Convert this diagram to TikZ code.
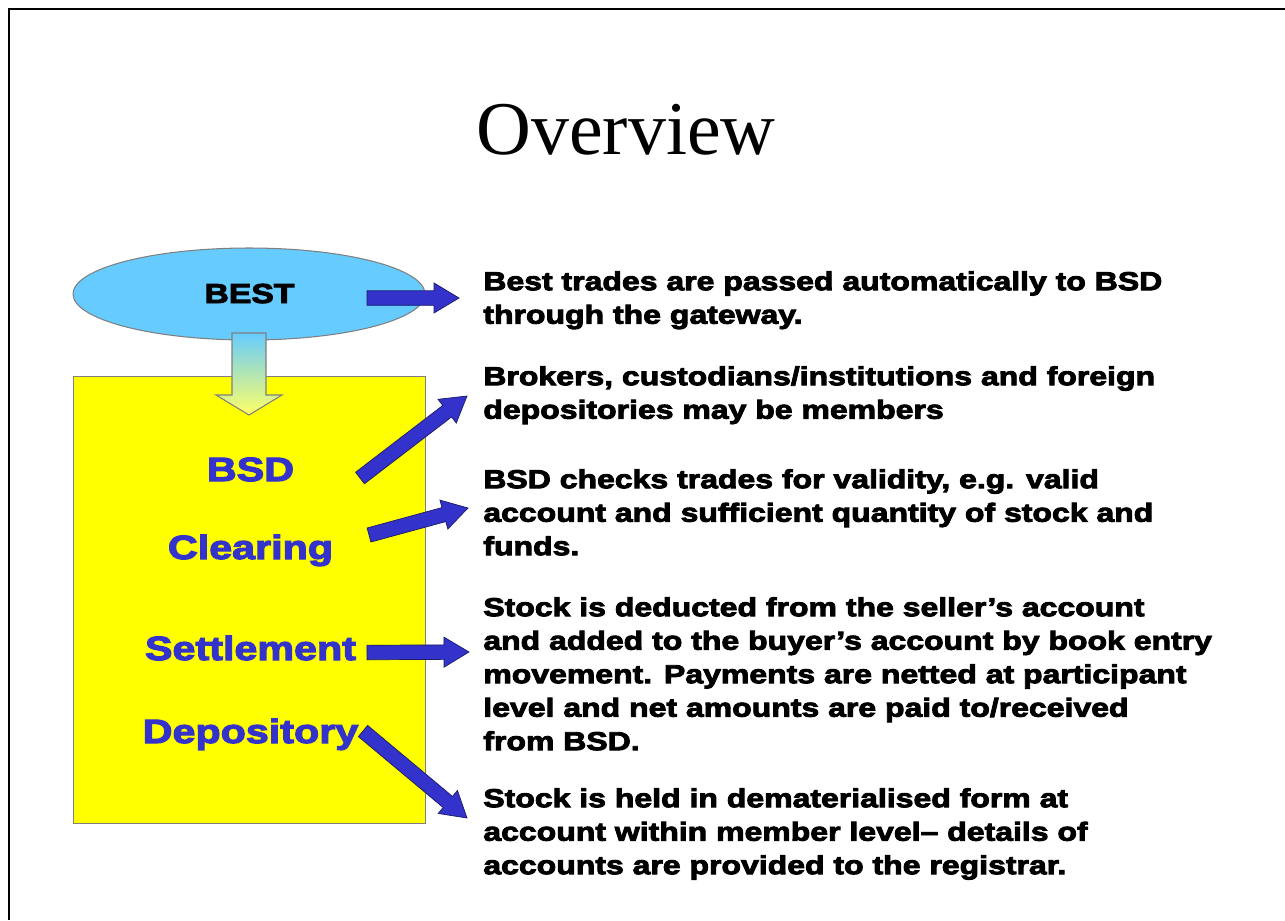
\documentclass[tikz,border=0pt]{standalone}
\usepackage{fontspec}
\setmainfont{Liberation Serif}
\newfontfamily\blackfont{Liberation Sans}[FakeStretch=1.23,FakeBold=3.5]
\usetikzlibrary{shapes.geometric,calc}

\definecolor{bestblue}{HTML}{66CCFF}
\definecolor{bsdyellow}{HTML}{FFFF00}
\definecolor{labelblue}{HTML}{3333CC}
\definecolor{arrowedge}{HTML}{1A1A66}
\definecolor{paleyellow}{HTML}{FFFF66}
\definecolor{boxedge}{HTML}{7F7F7F}

% fat arrow from #1-from to #1-to
\newcommand{\blockarrow}[1]{%
  \coordinate (#1-neck) at ($(#1-to)!0.5cm!(#1-from)$);
  \filldraw[blockarrow]
    ($(#1-from)!0.145cm!90:(#1-to)$) -- ($(#1-neck)!0.145cm!90:(#1-to)$)
    -- ($(#1-neck)!0.3cm!90:(#1-to)$) -- (#1-to)
    -- ($(#1-neck)!0.3cm!-90:(#1-to)$) -- ($(#1-neck)!0.145cm!-90:(#1-to)$)
    -- ($(#1-from)!0.145cm!-90:(#1-to)$) -- cycle;}

\begin{document}
\begin{tikzpicture}
[x=0.02cm, y=-0.02cm,
% STYLES
% title of the slide
title/.style={inner sep=0pt, font=\fontsize{43.2}{50}\selectfont},
% the BEST ellipse and the BSD box
system/.style={draw=boxedge, line width=0.6pt, inner sep=0pt},
% blue names written inside the yellow box
stage/.style={anchor=base, inner sep=0pt, text=labelblue, font=\blackfont\bfseries\fontsize{19.1}{23}\selectfont},
% the explanations on the right
desc/.style={anchor=north west, inner sep=0pt, align=left, font=\blackfont\bfseries\fontsize{14.8}{19.06}\selectfont},
blockarrow/.style={fill=labelblue, draw=arrowedge, line width=0.4pt, line join=miter}]

\useasboundingbox (0,0) rectangle (1285,920);
\draw[line width=1.6pt] (9,920) -- (9,9) -- (1285,9);

\node[title] (title) at (626,130) {Overview};

% Draw systems
\node[system, ellipse, fill=bestblue, minimum width=7.04cm, minimum height=1.84cm] (best) at (249,294) {};
\node[system, rectangle, fill=bsdyellow, minimum width=7.06cm, minimum height=8.96cm] (bsd-box) at (249.5,600) {};
\shade[top color=bestblue, bottom color=paleyellow, draw=boxedge, line width=0.6pt]
(232,333) -- (266,333) -- (266,395) -- (282,395) -- (249,415) -- (216,395) -- (232,395) -- cycle;

\node[stage, text=black, font=\blackfont\bfseries\fontsize{15.6}{19}\selectfont] (best-name) at (249.5,303) {BEST};
\node[stage] (bsd) at (250.5,481) {BSD};
\node[stage] (clearing) at (250.5,559) {Clearing};
\node[stage] (settlement) at (250.5,660) {Settlement};
\node[stage] (depository) at (250.5,743) {Depository};

%%%%%%%%%%%%%%%
% Explanations

\node[desc] (desc-best) at (483,271) {Best trades are passed automatically to BSD\\
through the gateway.};
\node[desc] (desc-bsd) at (483,366) {Brokers, custodians/institutions and foreign\\
depositories may be members};
\node[desc] (desc-clearing) at (483,469) {BSD checks trades for validity, e.g. valid\\
account and sufficient quantity of stock and\\
funds.};
\node[desc] (desc-settlement) at (483,597) {Stock is deducted from the seller’s account\\
and added to the buyer’s account by book entry\\
movement. Payments are netted at participant\\
level and net amounts are paid to/received\\
from BSD.};
\node[desc] (desc-depository) at (483,788) {Stock is held in dematerialised form at\\
account within member level– details of\\
accounts are provided to the registrar.};

%%%%%%%%%%%%%%%

% Draw the arrows towards the explanations
\coordinate (best-from) at (367,298);
\coordinate (best-to) at (459,298);
\coordinate (bsd-from) at (360,478);
\coordinate (bsd-to) at (467,396);
\coordinate (clearing-from) at (369,535);
\coordinate (clearing-to) at (468,508);
\coordinate (settlement-from) at (367,652.5);
\coordinate (settlement-to) at (469,652);
\coordinate (depository-from) at (363,731);
\coordinate (depository-to) at (467,818);
\foreach \s in {best,bsd,clearing,settlement,depository}
  {\blockarrow{\s}}

\end{tikzpicture}
\end{document}
